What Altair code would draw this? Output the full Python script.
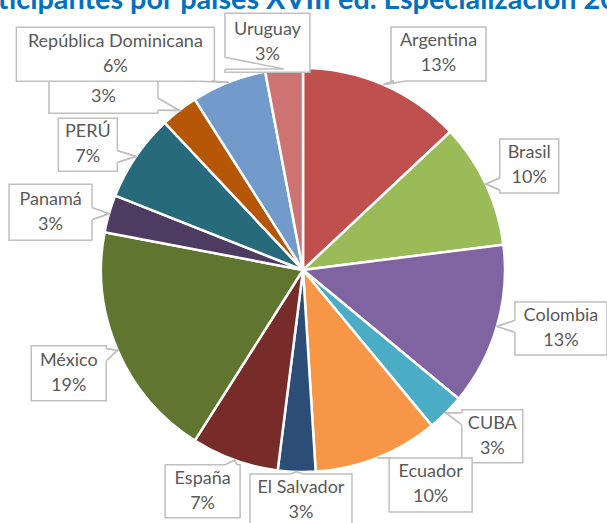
import math
import altair as alt
import pandas as pd

# ---------------- data ----------------
countries = ["Argentina", "Brasil", "Colombia", "CUBA", "Ecuador", "El Salvador", "España",
             "México", "Panamá", "PERÚ", "", "República Dominicana", "Uruguay"]
shares = [13, 10, 13, 3, 10, 3, 7, 19, 3, 7, 3, 6, 3]
colors = ["#C0504D", "#9BBB59", "#8064A2", "#4BACC6", "#F79646", "#2C4D75", "#772C2A",
          "#5F7530", "#4D3B62", "#276A7C", "#B65708", "#729ACA", "#CD7371"]
title_text = "Participantes por países XVIII ed. Especialización 2019"

# ---------------- layout (pixels) ----------------
W, H = 607, 523
CX, CY, R = 303, 270, 202
label_nudge_deg = [8.7, 0.5, -3.4, -3.7, -9.1, -1.3, 4.6, -0.4, -3.3, -4.0, -11.3, -19.4, -3.5]
label_dist = [255, 249, 264.5, 252, 250, 231, 243, 256, 259, 249, 264, 286, 230]
box_w = [95, 59, 92, 61, 83, 102, 75, 75, 83, 59, 109, 198, 85]
box_h = [54, 54, 53, 53, 54, 54, 53, 55, 56, 53, 32, 54, 59]
LINE_GAP = 12.5
FONT = "Lato"
LABEL_COLOR = "#595959"
BOX_COLOR = "#BFBFBF"

keys = [f"s{i:02d}" for i in range(len(shares))]
total = float(sum(shares))

xscale = alt.Scale(domain=[-CX / R, (W - CX) / R], range=[0, W], nice=False, zero=False)
yscale = alt.Scale(domain=[-(H - CY) / R, CY / R], range=[H, 0], nice=False, zero=False)

slices = pd.DataFrame({"key": keys, "country": countries, "share": shares,
                       "idx": list(range(len(shares))), "cx": 0.0, "cy": 0.0})

boxes, texts, pointers, bases = [], [], [], []
cum = 0.0
u = 1.0 / R
for i, (name, v) in enumerate(zip(countries, shares)):
    mid = math.radians((cum + v / 2.0) / total * 360.0)
    cum += v
    a = mid + math.radians(label_nudge_deg[i])
    bx = label_dist[i] * math.sin(a) * u
    by = label_dist[i] * math.cos(a) * u
    hw, hh = box_w[i] / 2 * u, box_h[i] / 2 * u
    left, right, bottom, top = bx - hw, bx + hw, by - hh, by + hh
    boxes.append({"key": keys[i], "x": left, "x2": right, "y": bottom, "y2": top})
    pct = f"{v}%"
    if name:
        texts.append({"t": name, "x": bx, "y": by + LINE_GAP * u})
        texts.append({"t": pct, "x": bx, "y": by - LINE_GAP * u})
    else:
        texts.append({"t": pct, "x": bx, "y": by})
    tx, ty = math.sin(mid), math.cos(mid)
    d, m = 6 * u, 9 * u
    if ty > top or ty < bottom:
        ey = top if ty > top else bottom
        bxc = min(max(tx, left + m), right - m)
        b1, b2 = (bxc - d, ey), (bxc + d, ey)
    else:
        ex = right if tx > right else left
        byc = min(max(ty, bottom + m), top - m)
        b1, b2 = (ex, byc - d), (ex, byc + d)
    for o, (px, py) in enumerate([b1, (tx, ty), b2]):
        pointers.append({"key": keys[i], "o": o, "x": px, "y": py})
    bases.append({"key": keys[i], "x": b1[0], "y": b1[1], "x2": b2[0], "y2": b2[1]})

boxes = pd.DataFrame(boxes)
texts = pd.DataFrame(texts)
pointers = pd.DataFrame(pointers)
bases = pd.DataFrame(bases)

pie = alt.Chart(slices).mark_arc(radius=R, stroke="white", strokeWidth=2.5).encode(
    x=alt.X("cx:Q", scale=xscale, axis=None),
    y=alt.Y("cy:Q", scale=yscale, axis=None),
    theta=alt.Theta("share:Q", stack=True),
    order=alt.Order("idx:Q"),
    color=alt.Color("key:N", scale=alt.Scale(domain=keys, range=colors), legend=None),
)

pointer_lines = alt.Chart(pointers).mark_line(color=BOX_COLOR, strokeWidth=1.5).encode(
    x=alt.X("x:Q", scale=xscale, axis=None),
    y=alt.Y("y:Q", scale=yscale, axis=None),
    detail="key:N",
    order="o:Q",
)

box_rects = alt.Chart(boxes).mark_rect(fill="white", stroke=BOX_COLOR, strokeWidth=1.5).encode(
    x=alt.X("x:Q", scale=xscale, axis=None),
    x2="x2:Q",
    y=alt.Y("y:Q", scale=yscale, axis=None),
    y2="y2:Q",
)

base_gaps = alt.Chart(bases).mark_rule(color="white", strokeWidth=2.5).encode(
    x=alt.X("x:Q", scale=xscale, axis=None),
    x2="x2:Q",
    y=alt.Y("y:Q", scale=yscale, axis=None),
    y2="y2:Q",
)

label_text = alt.Chart(texts).mark_text(font=FONT, fontSize=18, color=LABEL_COLOR,
                                        align="center", baseline="middle").encode(
    x=alt.X("x:Q", scale=xscale, axis=None),
    y=alt.Y("y:Q", scale=yscale, axis=None),
    text="t:N",
)

title = alt.Chart(pd.DataFrame({"t": [title_text]})).mark_text(
    font=FONT, fontSize=28.8, fontWeight="bold", color="#0070C0",
    align="left", baseline="alphabetic").encode(
    x=alt.value(-45), y=alt.value(9), text="t:N")

chart = alt.layer(pie, pointer_lines, box_rects, base_gaps, pointer_lines, label_text, title).properties(
    width=W, height=H, padding=0,
    autosize=alt.AutoSizeParams(type="none"),
    background="white",
).configure_view(strokeWidth=0)

chart.save("out.html", embed_options={"renderer": "svg", "actions": False})
